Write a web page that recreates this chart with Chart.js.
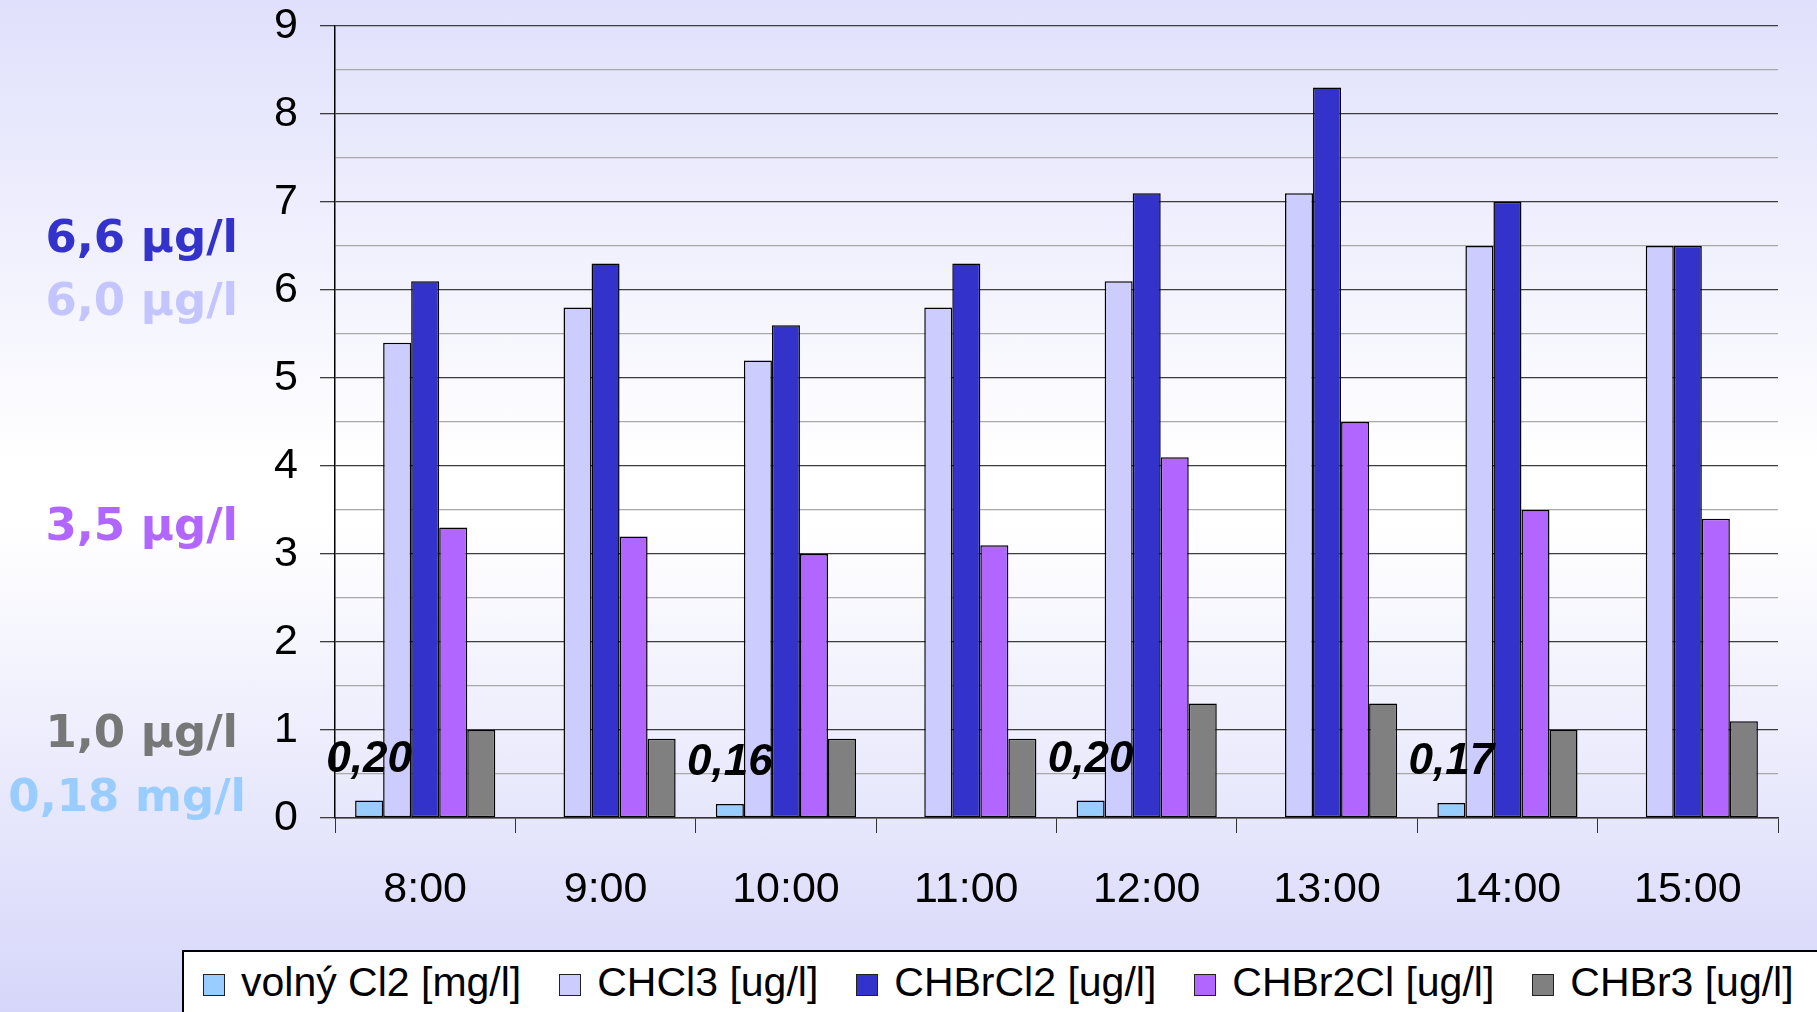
<!DOCTYPE html>
<html>
<head>
<meta charset="utf-8">
<script src="https://cdn.jsdelivr.net/npm/chart.js@4.4.1/dist/chart.umd.min.js"></script>
<style>
  html, body { margin: 0; padding: 0; }
  body {
    width: 1817px; height: 1012px; overflow: hidden; position: relative;
    background: linear-gradient(to bottom, #e0e0fc 0%, #ffffff 46%, #ffffff 52%, #d6d6fa 100%);
    font-family: 'Liberation Sans', Arial, sans-serif;
  }
  #chart { position: absolute; left: 0; top: 0; }
  #legend {
    position: absolute; left: 182px; top: 950px; width: 1700px; height: 70px;
    background: #fff; border: 2px solid #000; box-sizing: border-box;
    display: flex; align-items: center; padding-left: 19px;
  }
  .item { display: flex; align-items: center; margin-right: 38px; }
  .sw { width: 22px; height: 22px; border: 1.5px solid #222; box-sizing: border-box; margin-right: 16px; }
  .lt { font-size: 41px; color: #000; line-height: 1; white-space: nowrap; margin-top: -6px; }
</style>
</head>
<body>
<canvas id="chart" width="1817" height="1012"></canvas>
<div id="legend"></div>
<script>
// data
const categories = ['8:00', '9:00', '10:00', '11:00', '12:00', '13:00', '14:00', '15:00'];
const seriesNames = ['volný Cl2 [mg/l]', 'CHCl3 [ug/l]', 'CHBrCl2 [ug/l]', 'CHBr2Cl [ug/l]', 'CHBr3 [ug/l]'];
const volnyCl2 = [0.20, null, 0.16, null, 0.20, null, 0.17, null];
const chcl3 = [5.4, 5.8, 5.2, 5.8, 6.1, 7.1, 6.5, 6.5];
const chbrcl2 = [6.1, 6.3, 5.6, 6.3, 7.1, 8.3, 7.0, 6.5];
const chbr2cl = [3.3, 3.2, 3.0, 3.1, 4.1, 4.5, 3.5, 3.4];
const chbr3 = [1.0, 0.9, 0.9, 0.9, 1.3, 1.3, 1.0, 1.1];
const limitTexts = ['6,6 µg/l', '6,0 µg/l', '3,5 µg/l', '1,0 µg/l', '0,18 mg/l'];

const colors = ['#99ccff', '#ccccff', '#3333cc', '#b066ff', '#808080'];
const limitColors = ['#3333cc', '#c4c4ff', '#b066ff', '#777777', '#99ccff'];
const limitY = [252, 315, 540, 747, 811]; // baselines in px
const limitRight = [238, 238, 238, 238, 246];

const seriesData = [volnyCl2, chcl3, chbrcl2, chbr2cl, chbr3];

Chart.defaults.font.family = "'Liberation Sans', Arial, sans-serif";
Chart.defaults.font.size = 43;
Chart.defaults.color = '#000';

const isMajor = v => Math.abs(v - Math.round(v)) < 1e-6;

const extraText = {
  id: 'extraText',
  afterDatasetsDraw(chart) {
    const ctx = chart.ctx;
    ctx.save();
    ctx.font = "italic bold 44px 'Liberation Sans', Arial, sans-serif";
    ctx.fillStyle = '#000';
    ctx.textAlign = 'center';
    ctx.textBaseline = 'middle';
    chart.getDatasetMeta(0).data.forEach((bar, i) => {
      const v = volnyCl2[i];
      if (v == null) return;
      ctx.fillText(v.toFixed(2).replace('.', ','), bar.x, bar.y - 41);
    });
    ctx.font = "bold 45px 'Comic Sans MS', 'DejaVu Sans', sans-serif";
    ctx.textAlign = 'right';
    ctx.textBaseline = 'alphabetic';
    limitTexts.forEach((t, i) => {
      ctx.fillStyle = limitColors[i];
      ctx.fillText(t, limitRight[i], limitY[i]);
    });
    ctx.restore();
  }
};

new Chart(document.getElementById('chart'), {
  type: 'bar',
  data: {
    labels: categories,
    datasets: seriesData.map((d, i) => ({
      label: seriesNames[i],
      data: d,
      backgroundColor: colors[i],
      borderColor: '#000',
      borderWidth: 1.5,
      borderSkipped: false,
      barPercentage: 1,
      categoryPercentage: 0.777
    }))
  },
  options: {
    responsive: false,
    animation: false,
    devicePixelRatio: 1,
    layout: { padding: { left: 0, top: 26, right: 39, bottom: 0 } },
    plugins: { legend: { display: false }, tooltip: { enabled: false } },
    scales: {
      x: {
        grid: { drawOnChartArea: false, tickLength: 15, color: '#333', offset: true },
        border: { color: '#333', width: 1.5 },
        ticks: { padding: 31 },
        afterFit: s => { s.height = 194; s.paddingLeft = 0; s.paddingRight = 0; }
      },
      y: {
        min: 0, max: 9,
        ticks: {
          stepSize: 0.5, autoSkip: false, padding: 22,
          callback: v => isMajor(v) ? String(v) : ''
        },
        grid: {
          tickLength: 15,
          lineWidth: 1.3,
          color: c => (c.tick && isMajor(c.tick.value)) ? '#3c3c3c' : '#a8a8a8',
          tickColor: c => (c.tick && isMajor(c.tick.value)) ? '#3c3c3c' : 'rgba(0,0,0,0)'
        },
        border: { color: '#000', width: 1.5 },
        afterFit: s => { s.width = 335; s.paddingTop = 0; s.paddingBottom = 0; }
      }
    }
  },
  plugins: [extraText]
});

const legend = document.getElementById('legend');
seriesNames.forEach((name, i) => {
  const it = document.createElement('div');
  it.className = 'item';
  it.innerHTML = '<div class="sw" style="background:' + colors[i] + '"></div><span class="lt"></span>';
  it.querySelector('.lt').textContent = name;
  legend.appendChild(it);
});
</script>
</body>
</html>
